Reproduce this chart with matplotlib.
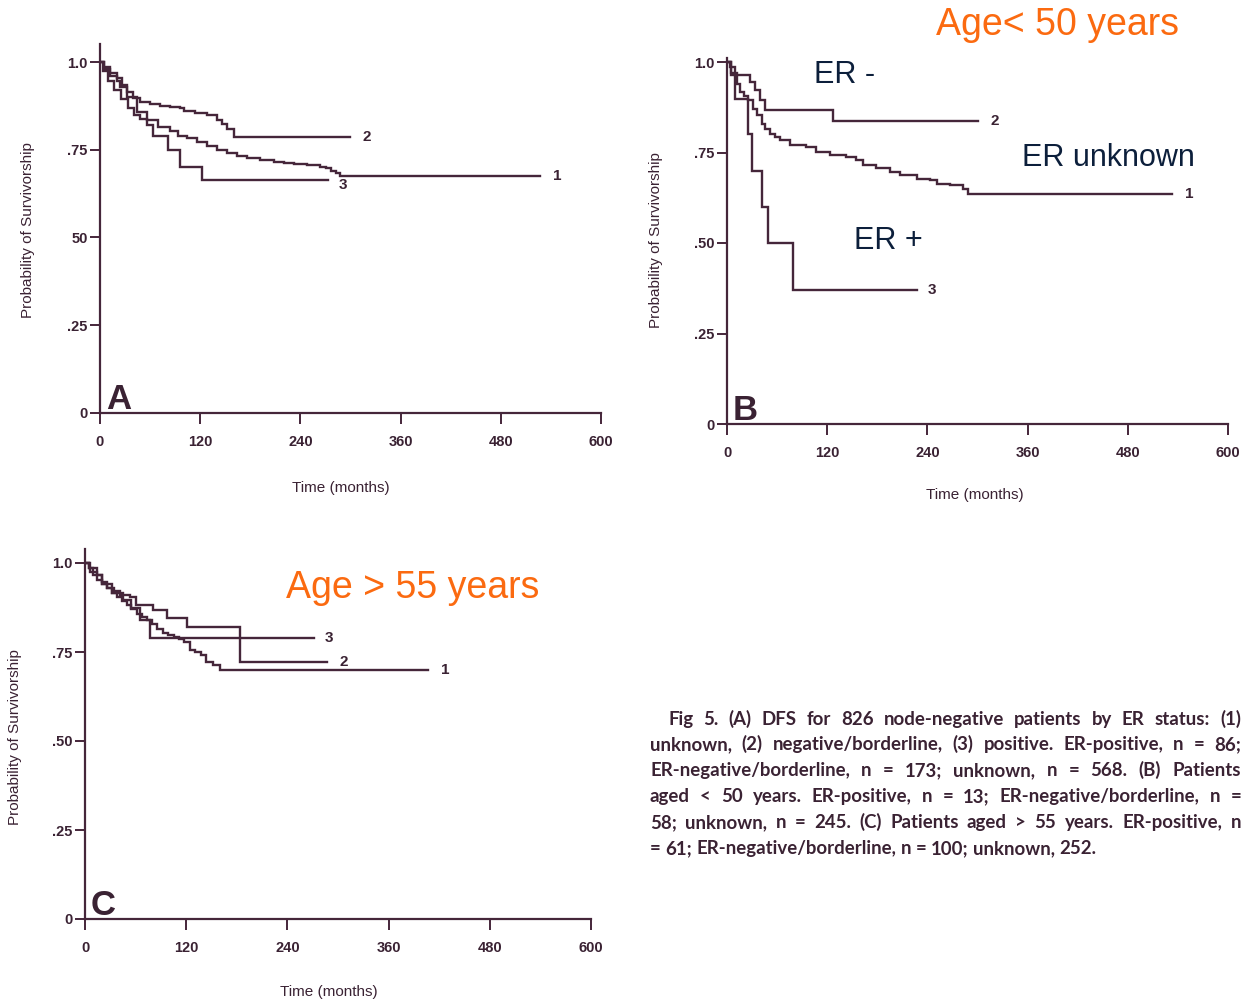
import matplotlib
matplotlib.use('Agg')
import matplotlib.pyplot as plt
from matplotlib import font_manager

W, H = 1247, 1002
names = {f.name for f in font_manager.fontManager.ttflist}
SANS = 'Liberation Sans' if 'Liberation Sans' in names else 'DejaVu Sans'
NARROW = SANS
CAPF = 'Lato' if 'Lato' in names else SANS

# ---------------- data ----------------
xticks = [0, 120, 240, 360, 480, 600]
yticks = [0, 0.25, 0.50, 0.75, 1.0]
ytick_labels_A = ['0', '.25', '50', '.75', '1.0']
ytick_labels = ['0', '.25', '.50', '.75', '1.0']

# Panel A: all node-negative patients
A_unknown_t = [0, 5, 12, 20, 24, 32, 44, 56, 70, 84, 94, 104, 116, 128, 140, 152, 164, 176, 192, 208, 220, 232, 248, 263, 271, 277, 283, 287]
A_unknown_s = [1.0, 0.98, 0.96, 0.945, 0.93, 0.90, 0.858, 0.835, 0.815, 0.802, 0.79, 0.783, 0.772, 0.761, 0.75, 0.74, 0.733, 0.726, 0.72, 0.716, 0.712, 0.709, 0.707, 0.702, 0.697, 0.69, 0.683, 0.675]
A_unknown_end = 527
A_neg_t = [0, 5, 12, 20, 26, 32, 40, 48, 60, 72, 84, 96, 100, 114, 128, 140, 146, 152, 160]
A_neg_s = [1.0, 0.985, 0.97, 0.955, 0.935, 0.915, 0.897, 0.885, 0.88, 0.876, 0.872, 0.868, 0.86, 0.855, 0.849, 0.835, 0.822, 0.81, 0.785]
A_neg_end = 299
A_pos_t = [0, 4, 10, 17, 25, 33, 41, 48, 56, 64, 82, 96, 122]
A_pos_s = [1.0, 0.975, 0.945, 0.92, 0.895, 0.87, 0.85, 0.838, 0.82, 0.788, 0.75, 0.702, 0.664]
A_pos_end = 273

# Panel B: age < 50
B_unknown_t = [0, 5, 11.6, 15.6, 20, 25.5, 31.5, 35.5, 41.5, 46, 51.5, 57, 63.5, 75, 95, 107, 123, 143, 155, 163, 179, 195, 207, 227, 243, 251, 267, 283, 289]
B_unknown_s = [1.0, 0.97, 0.94, 0.917, 0.905, 0.894, 0.871, 0.853, 0.83, 0.815, 0.802, 0.792, 0.784, 0.77, 0.765, 0.751, 0.742, 0.738, 0.728, 0.715, 0.706, 0.696, 0.687, 0.678, 0.673, 0.664, 0.66, 0.65, 0.636]
B_unknown_end = 533
B_neg_t = [0, 4, 9.6, 27.5, 33.5, 39.5, 45.5, 127]
B_neg_s = [1.0, 0.985, 0.963, 0.945, 0.922, 0.894, 0.867, 0.837]
B_neg_end = 301
B_pos_t = [0, 5, 9.6, 25.5, 29.5, 41.5, 49.5, 79.4]
B_pos_s = [1.0, 0.963, 0.899, 0.802, 0.70, 0.599, 0.499, 0.37]
B_pos_end = 227

# Panel C: age > 55
C_unknown_t = [0, 5, 14, 20, 25.7, 32, 37.6, 44, 49.4, 55, 61.3, 67, 73, 79, 85, 93, 99, 105, 111, 117, 125, 131, 137, 144, 152, 160]
C_unknown_s = [1.0, 0.985, 0.967, 0.948, 0.929, 0.917, 0.905, 0.893, 0.882, 0.87, 0.858, 0.849, 0.84, 0.828, 0.816, 0.802, 0.797, 0.793, 0.786, 0.779, 0.756, 0.749, 0.742, 0.723, 0.714, 0.70]
C_unknown_end = 407
C_neg_t = [0, 6, 14, 20, 26, 34, 41, 53, 61, 81, 97, 121, 184]
C_neg_s = [1.0, 0.975, 0.952, 0.94, 0.93, 0.92, 0.91, 0.905, 0.882, 0.868, 0.845, 0.821, 0.723]
C_neg_end = 287
C_pos_t = [0, 5, 10, 20, 32, 45, 55, 65, 77]
C_pos_s = [1.0, 0.985, 0.965, 0.94, 0.915, 0.895, 0.875, 0.84, 0.79]
C_pos_end = 271

curve_labels = ['1', '2', '3']
panel_letters = ['A', 'B', 'C']

caption_lines = [
    "Fig 5.  (A) DFS for 826 node-negative patients by ER status: (1)",
    "unknown, (2) negative/borderline, (3) positive. ER-positive, n = 86;",
    "ER-negative/borderline, n = 173; unknown, n = 568. (B) Patients",
    "aged < 50 years. ER-positive, n = 13; ER-negative/borderline, n =",
    "58; unknown, n = 245. (C) Patients aged > 55 years. ER-positive, n",
    "= 61; ER-negative/borderline, n = 100; unknown, 252.",
]

# ---------------- style ----------------
INK = '#45263a'
TXT = '#3a2233'
ORANGE = '#fb6a10'
NAVY = '#0c1f3b'

fig = plt.figure(figsize=(W / 100, H / 100), dpi=100)
fig.patch.set_facecolor('white')


def ax_at(x0, x1, y0, y1):
    return fig.add_axes([x0 / W, 1 - y0 / H, (x1 - x0) / W, (y0 - y1) / H])


def style_axes(ax, ytop, ylabels):
    ax.set_xlim(0, 600)
    ax.set_ylim(0, ytop)
    for s in ['top', 'right']:
        ax.spines[s].set_visible(False)
    for s in ['left', 'bottom']:
        ax.spines[s].set_color(INK)
        ax.spines[s].set_linewidth(1.6)
    ax.set_xticks(xticks)
    ax.set_xticklabels([str(v) for v in xticks])
    ax.set_yticks(yticks)
    ax.set_yticklabels(ylabels)
    ax.tick_params(axis='x', direction='out', length=8, width=1.4, color=INK,
                   pad=8, labelsize=10.5, labelcolor=TXT)
    ax.tick_params(axis='y', direction='out', length=7, width=1.4, color=INK,
                   pad=2, labelsize=10.5, labelcolor=TXT)
    for lab in ax.get_xticklabels() + ax.get_yticklabels():
        lab.set_fontfamily(NARROW)
        lab.set_fontweight('bold')
    ax.patch.set_alpha(0)


def draw_curve(ax, t, s, end, label, off):
    ax.step(list(t) + [end], list(s) + [s[-1]], where='post', color=INK,
            lw=1.7, solid_joinstyle='miter')
    ax.annotate(label, xy=(end, s[-1]), xytext=off, textcoords='offset points',
                va='center', ha='left', fontsize=11, fontweight='bold',
                color=TXT, fontfamily=NARROW)


# Panel A
axA = ax_at(100, 601, 413, 413 - 1.05 * 351)
style_axes(axA, 1.05, ytick_labels_A)
draw_curve(axA, A_unknown_t, A_unknown_s, A_unknown_end, curve_labels[0], (9, 0))
draw_curve(axA, A_neg_t, A_neg_s, A_neg_end, curve_labels[1], (9, 0))
draw_curve(axA, A_pos_t, A_pos_s, A_pos_end, curve_labels[2], (8, -4))

# Panel B
axB = ax_at(727, 1228, 424, 424 - 1.01 * 362)
style_axes(axB, 1.01, ytick_labels)
draw_curve(axB, B_unknown_t, B_unknown_s, B_unknown_end, curve_labels[0], (9, 0))
draw_curve(axB, B_neg_t, B_neg_s, B_neg_end, curve_labels[1], (9, 0))
draw_curve(axB, B_pos_t, B_pos_s, B_pos_end, curve_labels[2], (8, 0))

# Panel C
axC = ax_at(85, 591, 919, 919 - 1.04 * 356)
style_axes(axC, 1.04, ytick_labels)
draw_curve(axC, C_unknown_t, C_unknown_s, C_unknown_end, curve_labels[0], (9, 0))
draw_curve(axC, C_neg_t, C_neg_s, C_neg_end, curve_labels[1], (9, 0))
draw_curve(axC, C_pos_t, C_pos_s, C_pos_end, curve_labels[2], (8, 0))

# panel letters
for ax, letter in zip([axA, axB, axC], panel_letters):
    ax.text(0.012, 0.012, letter, transform=ax.transAxes, fontsize=25,
            fontweight='bold', color=TXT, fontfamily=SANS, ha='left', va='baseline')


def ftext(x, y, s, **kw):
    return fig.text(x / W, 1 - y / H, s, **kw)


lab_kw = dict(fontsize=11, color=TXT, fontfamily=NARROW, ha='center', va='center')
ftext(341, 488, 'Time (months)', **lab_kw)
ftext(975, 495, 'Time (months)', **lab_kw)
ftext(329, 992, 'Time (months)', **lab_kw)
ftext(28, 230, 'Probability of Survivorship', rotation=90, **lab_kw)
ftext(656, 240, 'Probability of Survivorship', rotation=90, **lab_kw)
ftext(15, 737, 'Probability of Survivorship', rotation=90, **lab_kw)

# overlay annotations
ftext(1058, 25, 'Age< 50 years', fontsize=27, color=ORANGE, fontfamily=SANS,
      ha='center', va='center')
ftext(413, 588, 'Age > 55 years', fontsize=27, color=ORANGE, fontfamily=SANS,
      ha='center', va='center')
ftext(845, 75, 'ER -', fontsize=22, color=NAVY, fontfamily=SANS, ha='center', va='center')
ftext(1108, 158, 'ER unknown', fontsize=22, color=NAVY, fontfamily=SANS, ha='center', va='center')
ftext(888, 241, 'ER +', fontsize=22, color=NAVY, fontfamily=SANS, ha='center', va='center')

# caption, justified
cap_kw = dict(fontsize=13.4, color=TXT, fontfamily=CAPF, fontweight='bold',
              va='baseline', ha='left')
renderer = fig.canvas.get_renderer()
probe1 = fig.text(0, 0, 'n n', **cap_kw)
probe2 = fig.text(0, 0, 'nn', **cap_kw)
space_w = probe1.get_window_extent(renderer).width - probe2.get_window_extent(renderer).width
probe1.remove()
probe2.remove()

starts = [668, 650, 650, 650, 650, 650]
right_edge = 1241
baselines = [725, 750, 776, 802, 828, 854]
for i, line in enumerate(caption_lines):
    words = line.split()
    texts = [ftext(0, baselines[i], w, **cap_kw) for w in words]
    widths = [t.get_window_extent(renderer).width for t in texts]
    last = (i == len(caption_lines) - 1)
    if not last and len(words) > 1:
        gap = (right_edge - starts[i] - sum(widths)) / (len(words) - 1)
        gap = max(gap, 0.6 * space_w)
    else:
        gap = space_w
    x = starts[i]
    for t, w in zip(texts, widths):
        t.set_x(x / W)
        x += w + gap

fig.savefig('out.png', dpi=100, facecolor='white')
